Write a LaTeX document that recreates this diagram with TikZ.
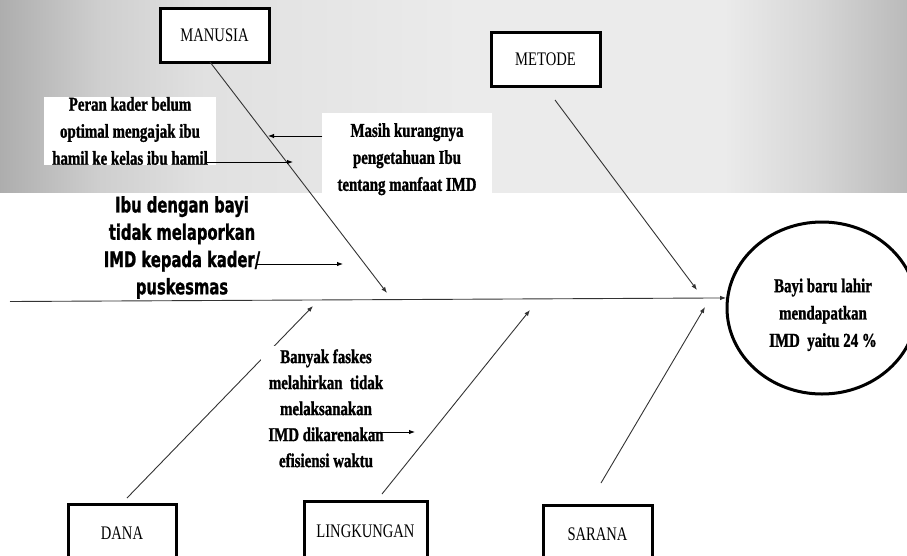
\documentclass[tikz,border=0pt]{standalone}
\usepackage{fontspec}
\setmainfont{Liberation Serif}[FakeStretch=0.76, BoldFeatures={FakeBold=1.2}]
\newfontfamily\ibufont{DejaVu Sans}[FakeStretch=0.69, BoldFeatures={FakeBold=1.0}]
\usetikzlibrary{arrows.meta,shapes.geometric,calc}

% grey band behind the upper part of the diagram
\definecolor{bandA}{gray}{0.68}
\definecolor{bandB}{gray}{0.81}
\definecolor{bandC}{gray}{0.88}
\definecolor{bandD}{gray}{0.92}
\definecolor{bandE}{gray}{0.84}
\definecolor{bandF}{gray}{0.73}
\pgfdeclarehorizontalshading{bandshade}{100bp}{color(0bp)=(bandA); color(25bp)=(bandA);
  color(30.5bp)=(bandB); color(36bp)=(bandC); color(50bp)=(bandD); color(65bp)=(bandD);
  color(70bp)=(bandE); color(75bp)=(bandF); color(100bp)=(bandF)}

\tikzset{
  catbox/.style={draw=black, line width=3pt, fill=white, inner sep=0pt, outer sep=0pt,
    minimum height=54pt, font=\fontsize{19.2}{23}\selectfont},
  causetxt/.style={align=center, inner sep=0pt, font=\fontsize{19.6}{27}\selectfont\bfseries},
  bone/.style={draw=black!80, line width=0.9pt, -{Latex[length=6pt,width=4.5pt]}},
  smallarr/.style={draw=black, line width=0.9pt, -{Latex[length=6pt,width=4.5pt]}},
}

\begin{document}
\begin{tikzpicture}[x=1pt, y=-1pt]
\useasboundingbox (0,0) rectangle (907,555);
\fill[white] (0,0) rectangle (907,555);
\shade[shading=bandshade] (0,0) rectangle (907,192);

% category boxes
\node[catbox, minimum width=109pt] (manusia) at (214.5,35) {MANUSIA};
\node[catbox, minimum width=109pt] (metode) at (545.5,59) {METODE};
\node[catbox, minimum width=108pt, minimum height=58pt, anchor=north] (dana) at (122,504) {DANA};
\node[catbox, minimum width=123pt, minimum height=61pt, anchor=north] (lingkungan) at (365.5,501) {LINGKUNGAN};
\node[catbox, minimum width=109pt, minimum height=58pt, anchor=north] (sarana) at (597.5,505) {SARANA};

% effect
\node[draw=black, line width=3pt, ellipse, minimum width=190pt, minimum height=172pt, inner sep=0pt] (goal) at (822,308) {};
\node[causetxt, font=\fontsize{19.6}{27.3}\selectfont\bfseries] (goaltxt) at (823,314.8)
  {Bayi baru lahir\\mendapatkan\\IMD~ yaitu 24 \%};

% bone end points
\coordinate (spineTail) at (10,301.5);
\coordinate (manusiaTip) at (387,293);
\coordinate (metodeTail) at (555,100);
\coordinate (metodeTip) at (697,290);
\coordinate (danaTail) at (127,498);
\coordinate (danaTip) at (313,306);
\coordinate (lingTail) at (382,494);
\coordinate (lingTip) at (530,310);
\coordinate (saranaTail) at (601,483);
\coordinate (saranaTip) at (705,307);

% spine and bones
\draw[bone] (spineTail) -- (goal.174);
\draw[bone] ([xshift=-4.5pt]manusia.south) -- (manusiaTip);
\draw[bone] (metodeTail) -- (metodeTip);
\draw[bone] (danaTail) -- (danaTip);
\draw[bone] (lingTail) -- (lingTip);
\draw[bone] (saranaTail) -- (saranaTip);

% causes
\node[causetxt, fill=white, inner xsep=8pt, inner ysep=0.5pt] (peran) at (130,131)
  {Peran kader belum\\optimal mengajak ibu\\hamil ke kelas ibu hamil};
\node[causetxt, fill=white, inner xsep=15pt, inner ysep=10pt] (masih) at (407,159.2)
  {Masih kurangnya\\pengetahuan Ibu\\tentang manfaat IMD};
\node[align=center, inner sep=0pt, font=\ibufont\fontsize{21.4}{27.3}\selectfont\bfseries] (ibu) at (182,247.5)
  {Ibu dengan bayi\\tidak melaporkan\\IMD kepada kader/\\puskesmas};
\node[causetxt, font=\fontsize{19.6}{26}\selectfont\bfseries, fill=white, inner xsep=7pt, inner ysep=3pt] (banyak) at (326,408.3)
  {Banyak faskes\\melahirkan~ tidak\\melaksanakan\\IMD dikarenakan\\efisiensi waktu};

% cause arrows
\coordinate (masihTip) at (268,136);
\coordinate (peranFrom) at (207,162);
\coordinate (peranTip) at (293,162);
\coordinate (ibuFrom) at (257,264);
\coordinate (ibuTip) at (343,264);
\coordinate (imdFrom) at (370,432);
\coordinate (imdTip) at (415,432);
\draw[smallarr] (masih.west |- masihTip) -- (masihTip);
\draw[smallarr] (peranFrom) -- (peranTip);
\draw[smallarr] (ibuFrom) -- (ibuTip);
\draw[smallarr] (imdFrom) -- (imdTip);
\end{tikzpicture}
\end{document}
